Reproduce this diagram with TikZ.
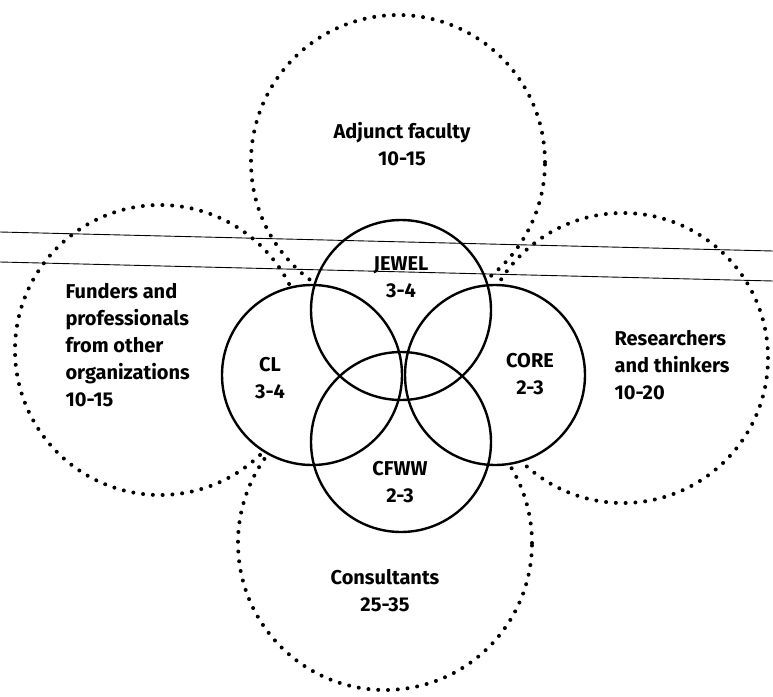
\documentclass[tikz,border=0pt]{standalone}
\usepackage{fontspec}
\setmainfont{Fira Sans}

\begin{document}
\begin{tikzpicture}[
  x=1pt, y=-1pt,
  outer/.style={circle, draw, minimum size=294pt, inner sep=0pt,
                line width=4pt, line cap=round, dash pattern=on 0pt off 9.8pt},
  inner/.style={circle, draw, minimum size=180pt, inner sep=0pt, line width=2.4pt},
  label/.style={align=center, font=\bfseries\fontsize{20}{27}\selectfont},
  scanline/.style={line width=0.9pt},
]
  \useasboundingbox (0,0) rectangle (773,696);

  % dotted outer groups
  \node[outer] (adj) at (398,162) {};
  \node[outer, minimum size=290pt] (fund) at (160,350) {};
  \node[outer, minimum size=290pt] (res) at (623,358) {};
  \node[outer] (cons) at (385,543) {};

  % solid inner circles, blanked first so the dots stop at them
  \coordinate (cj) at (401,310);
  \coordinate (cc) at (312,375);
  \coordinate (co) at (495,375);
  \coordinate (cf) at (401,442);
  \foreach \c in {cj,cc,co,cf}
    \fill[white] (\c) circle (90);
  \node[inner] (jewel) at (cj) {};
  \node[inner] (cl) at (cc) {};
  \node[inner] (core) at (co) {};
  \node[inner] (cfww) at (cf) {};

  % texts
  \node[label] (tadj) at (402,144) {Adjunct faculty\\10-15};
  \node[label, align=left, anchor=west] (tfund) at (62,345)
    {Funders and\\professionals\\from other\\organizations\\10-15};
  \node[label, align=left, anchor=west] (tres) at (611,365)
    {Researchers\\and thinkers\\10-20};
  \node[label] (tcons) at (385,591) {Consultants\\25-35};
  \node[label] (tjewel) at (401,277) {JEWEL\\3-4};
  \node[label] (tcl) at (270,378) {CL\\3-4};
  \node[label] (tcore) at (530,374) {CORE\\2-3};
  \node[label] (tcfww) at (400,482) {CFWW\\2-3};

  % the two lines across the top
  \coordinate (la) at (0,232);
  \coordinate (lb) at (773,251);
  \coordinate (lc) at (0,262);
  \coordinate (ld) at (773,281);
  \draw[scanline] (la) -- (lb);
  \draw[scanline] (lc) -- (ld);
\end{tikzpicture}
\end{document}
